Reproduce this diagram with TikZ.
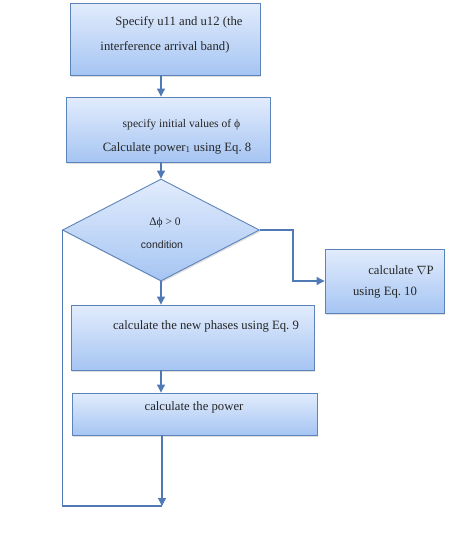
\documentclass[tikz,border=0pt]{standalone}
\usepackage{fontspec}
\setmainfont{Liberation Serif}
\newfontfamily\condfont{Liberation Sans}
\usetikzlibrary{arrows.meta,shapes.geometric,shadows}
\definecolor{boxtop}{HTML}{E2ECFC}
\definecolor{boxbot}{HTML}{A6C5F3}
\definecolor{boxline}{HTML}{5D84BA}
\definecolor{flowline}{HTML}{4F7AB5}

\begin{document}
\begin{tikzpicture}[
  x=1pt, y=-1pt,
  box/.style={draw=boxline, line width=0.9pt, top color=boxtop, bottom color=boxbot, inner sep=0pt,
    drop shadow={shadow xshift=1.2pt, shadow yshift=-1.5pt, opacity=0.25}},
  decision/.style={box, diamond},
  txt/.style={font=\fontsize{12.7}{15}\selectfont, inner sep=0pt, text=black!85},
  arrow/.style={-{Triangle[length=8pt, width=8pt]}, draw=flowline, line width=1.1pt},
  wire/.style={draw=flowline, line width=1.1pt}
]
\useasboundingbox (0,0) rectangle (474,549);
% boxes
\node[box, minimum width=190pt, minimum height=72pt] (band) at (165,39) {};
\node[box, minimum width=204pt, minimum height=65pt] (init) at (168,129.5) {};
\node[decision, minimum width=197pt, minimum height=102pt] (cond) at (161,230) {};
\node[box, minimum width=119pt, minimum height=64pt] (grad) at (384.5,281) {};
\node[box, minimum width=243pt, minimum height=65pt] (phase) at (192.5,337.5) {};
\node[box, minimum width=245pt, minimum height=42pt] (power) at (194.5,414) {};
\coordinate (back) at (162,506);
% texts
\node[txt] (bandA) at (179,22) {Specify u11 and u12 (the};
\node[txt] (bandB) at (165,47) {interference arrival band)};
\node[txt, font=\fontsize{11.6}{14}\selectfont] (initA) at (181.5,125) {specify initial values of ϕ};
\node[txt] (initB) at (177,148) {Calculate power\textsubscript{1} using Eq.~8};
\node[txt, font=\fontsize{11.5}{14}\selectfont] (condA) at (165,223) {Δϕ > 0};
\node[txt, font=\condfont\fontsize{10.5}{13}\selectfont] (condB) at (162,245) {condition};
\node[txt] (gradA) at (401,270) {calculate $\nabla$P};
\node[txt] (gradB) at (385,293) {using Eq.~10};
\node[txt] (phaseA) at (206,326) {calculate the new phases using Eq.~9};
\node[txt] (powerA) at (194,407) {calculate the power};
% connectors
\draw[arrow] (band.south -| cond.north) -- (init.north -| cond.north);
\draw[arrow] (init.south -| cond.north) -- (cond.north);
\draw[arrow] (cond.east) -- ++(33,0) |- (grad.west);
\draw[arrow] (cond.south) -- (phase.north -| cond.south);
\draw[arrow] (phase.south -| cond.south) -- (power.north -| cond.south);
\draw[arrow] (power.south -| back) -- (back);
\draw[wire] (cond.west) -- (cond.west |- back) -- (back);
\end{tikzpicture}
\end{document}
